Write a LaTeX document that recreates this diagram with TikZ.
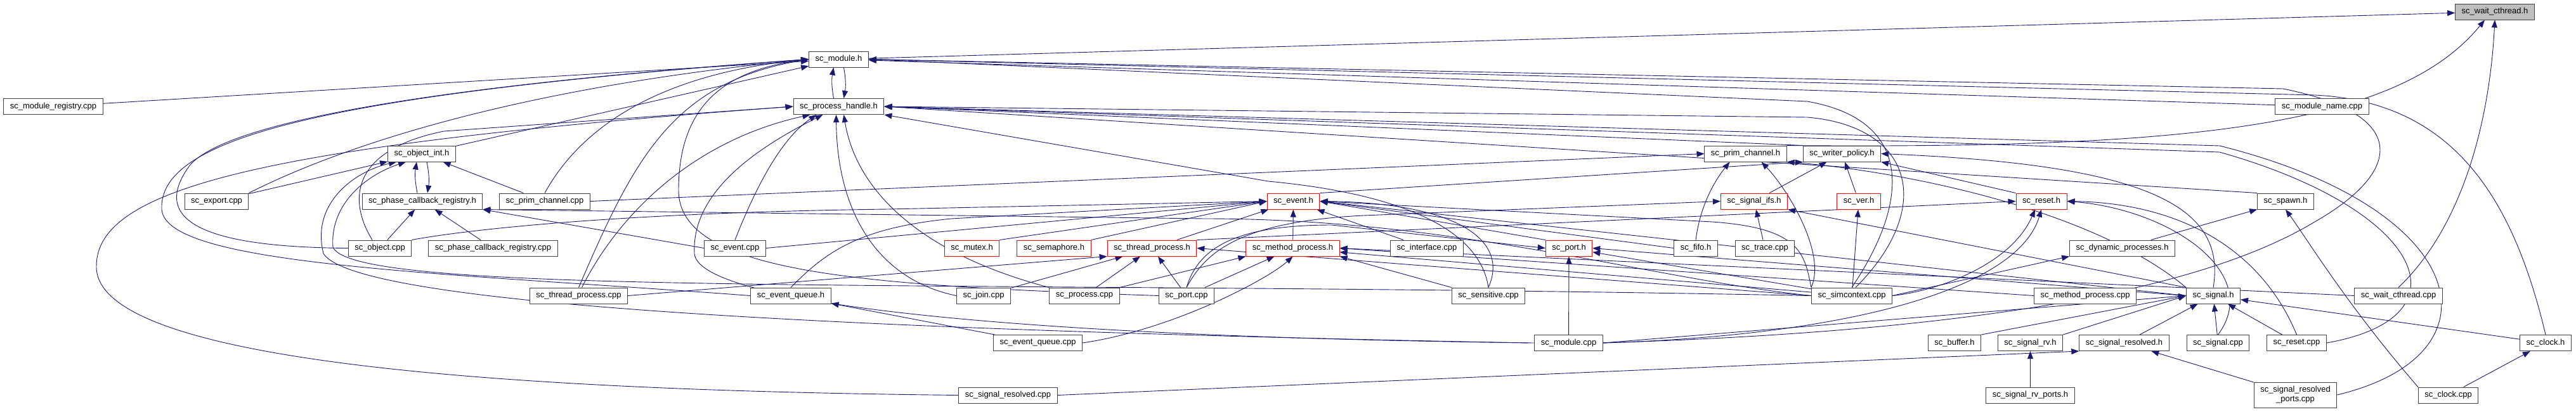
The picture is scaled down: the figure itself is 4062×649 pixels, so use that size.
\documentclass[tikz,border=0pt]{standalone}
\usepackage{fontspec}
\setmainfont{Liberation Sans}
\usetikzlibrary{arrows.meta,backgrounds}
\definecolor{edgeblue}{HTML}{191970}
\definecolor{rootfill}{HTML}{BFBFBF}

\begin{document}
\begin{tikzpicture}[x=1pt,y=-1pt,
    file/.style={draw=black!75, line width=1pt, fill=white, inner xsep=10pt,
                 minimum height=25pt, font=\fontsize{13}{15}\selectfont},
    trunc/.style={file, draw=red},
    root/.style={file, fill=rootfill},
    dep/.style={edgeblue, line width=0.9pt, -{Triangle[length=12pt,width=9pt]}}]
  \useasboundingbox (0,0) rectangle (4062,649);
  % Root
  \node[root] (wct) at (3934,18.5) {sc\_wait\_cthread.h};
  % Rank 1-3
  \node[file] (modh) at (1322.5,93.5) {sc\_module.h};
  \node[file] (regcpp) at (84,168) {sc\_module\_registry.cpp};
  \node[file] (phh) at (1322.5,168) {sc\_process\_handle.h};
  \node[file] (mnamecpp) at (3661.5,168) {sc\_module\_name.cpp};
  \node[file] (objint) at (665,242.5) {sc\_object\_int.h};
  \node[file] (primh) at (2752.5,242.5) {sc\_prim\_channel.h};
  \node[file] (wph) at (2904.5,242.5) {sc\_writer\_policy.h};
  % Rank 4
  \node[file] (expcpp) at (341.5,317.5) {sc\_export.cpp};
  \node[file] (pcbh) at (666,317.5) {sc\_phase\_callback\_registry.h};
  \node[file] (primcpp) at (859,317.5) {sc\_prim\_channel.cpp};
  \node[trunc] (evh) at (2039.5,317.5) {sc\_event.h};
  \node[trunc] (sifsh) at (2766,317.5) {sc\_signal\_ifs.h};
  \node[trunc] (verh) at (2931,317.5) {sc\_ver.h};
  \node[trunc] (rsth) at (3219,317.5) {sc\_reset.h};
  \node[file] (spawnh) at (3604,317.5) {sc\_spawn.h};
  % Rank 5
  \node[file] (objcpp) at (599,391.5) {sc\_object.cpp};
  \node[file] (pcbcpp) at (777.5,391.5) {sc\_phase\_callback\_registry.cpp};
  \node[file] (evcpp) at (1159,391.5) {sc\_event.cpp};
  \node[trunc] (mutexh) at (1532.5,391.5) {sc\_mutex.h};
  \node[trunc] (semh) at (1662,391.5) {sc\_semaphore.h};
  \node[trunc] (thph) at (1816.5,391.5) {sc\_thread\_process.h};
  \node[trunc] (mph) at (2038.5,391.5) {sc\_method\_process.h};
  \node[file] (ifcpp) at (2250,391.5) {sc\_interface.cpp};
  \node[trunc] (porth) at (2474,391.5) {sc\_port.h};
  \node[file] (fifoh) at (2674,391.5) {sc\_fifo.h};
  \node[file] (trcpp) at (2783,391.5) {sc\_trace.cpp};
  \node[file] (dynh) at (3346.5,391.5) {sc\_dynamic\_processes.h};
  % Rank 6
  \node[file] (thpcpp) at (912.5,466.5) {sc\_thread\_process.cpp};
  \node[file] (evqh) at (1247,466.5) {sc\_event\_queue.h};
  \node[file] (joincpp) at (1551,466.5) {sc\_join.cpp};
  \node[file] (proccpp) at (1710,466.5) {sc\_process.cpp};
  \node[file] (portcpp) at (1871,466.5) {sc\_port.cpp};
  \node[file] (senscpp) at (2347,466.5) {sc\_sensitive.cpp};
  \node[file] (simcpp) at (2920,466.5) {sc\_simcontext.cpp};
  \node[file] (mpcpp) at (3288,466.5) {sc\_method\_process.cpp};
  \node[file] (sigh) at (3490,466.5) {sc\_signal.h};
  \node[file] (wctcpp) at (3782,466.5) {sc\_wait\_cthread.cpp};
  % Rank 7
  \node[file] (evqcpp) at (1636.5,541) {sc\_event\_queue.cpp};
  \node[file] (modcpp) at (2473.5,541) {sc\_module.cpp};
  \node[file] (bufh) at (3082,541) {sc\_buffer.h};
  \node[file] (sigrvh) at (3201.5,541) {sc\_signal\_rv.h};
  \node[file] (sigresh) at (3349.5,541) {sc\_signal\_resolved.h};
  \node[file] (sigcpp) at (3497.5,541) {sc\_signal.cpp};
  \node[file] (rstcpp) at (3621.5,541) {sc\_reset.cpp};
  \node[file] (clkh) at (4014,541) {sc\_clock.h};
  % Rank 8
  \node[file] (sigrescpp) at (1589.5,623.5) {sc\_signal\_resolved.cpp};
  \node[file] (sigrvph) at (3201.5,623.5) {sc\_signal\_rv\_ports.h};
  \node[file, align=center, minimum height=40pt] (sigresportscpp) at (3619.5,623)
    {sc\_signal\_resolved\\\_ports.cpp};
  \node[file] (clkcpp) at (3860.5,623.5) {sc\_clock.cpp};

  \begin{pgfonlayer}{background}
  % into sc_wait_cthread.h
  \draw[dep] (modh) -- (wct);
  \draw[dep] (primh.north east) .. controls (3450,235) and (3780,200) .. ([xshift=-16pt]wct.south);
  \draw[dep] (wctcpp.north) .. controls (3880,360) and (3925,200) .. (wct.south);
  % sc_module.h and sc_process_handle.h
  \draw[dep] ([xshift=-8pt]phh.north) to[bend left=10] ([xshift=-8pt]modh.south);
  \draw[dep] ([xshift=8pt]modh.south) to[bend left=10] ([xshift=8pt]phh.north);
  % into sc_module.h
  \draw[dep] (regcpp) -- (modh);
  \draw[dep] (expcpp.north east) .. controls (530,235) and (800,140) .. (modh.west);
  \draw[dep] (objcpp.west) .. controls (300,390) and (240,340) .. (300,260)
    .. controls (380,170) and (900,120) .. (modh.west);
  \draw[dep] (evqh.west) .. controls (700,430) and (260,420) .. (255,330)
    .. controls (250,220) and (500,150) .. (modh.west);
  \draw[dep] (objint) -- (modh);
  \draw[dep] (primcpp.north) .. controls (900,230) and (1000,120) .. (modh.west);
  \draw[dep] (thpcpp.north) .. controls (1000,250) and (1060,130) .. (modh.west);
  \draw[dep] (portcpp.west) .. controls (1350,450) and (1070,430) .. (1070,300)
    .. controls (1070,160) and (1150,110) .. (modh.west);
  \draw[dep] (mnamecpp) -- (modh);
  \draw[dep] (clkh.north) .. controls (3960,300) and (3860,160) .. (3650,150) -- (modh.east);
  \draw[dep] (simcpp.north) .. controls (3010,320) and (3020,190) .. (2850,160) -- (modh.east);
  \draw[dep] (modcpp.east) .. controls (3200,520) and (3500,440) .. (3650,350)
    .. controls (3790,270) and (3800,180) .. (3600,140) -- (modh.east);
  % into sc_process_handle.h
  \draw[dep] ([xshift=-12pt]objcpp.north) .. controls (545,310) and (560,235) .. (700,207) -- (phh.west);
  \draw[dep] (sigrescpp.west) .. controls (700,615) and (150,560) .. (152,420)
    .. controls (152,300) and (400,230) .. (phh.west);
  \draw[dep] (evcpp.north) .. controls (1190,300) and (1230,220) .. ([xshift=-35pt]phh.south);
  \draw[dep] ([xshift=5pt]thpcpp.north) .. controls (980,330) and (1100,220) .. ([xshift=-45pt]phh.south);
  \draw[dep] (modcpp.west) .. controls (1500,530) and (1100,470) .. (1095,400)
    .. controls (1090,300) and (1200,230) .. ([xshift=-25pt]phh.south);
  \draw[dep] (joincpp.west) .. controls (1380,440) and (1320,330) .. ([xshift=-4pt]phh.south);
  \draw[dep] (proccpp.north west) .. controls (1450,400) and (1350,300) .. ([xshift=8pt]phh.south);
  \draw[dep] (wph.north west) -- (phh.east);
  \draw[dep] (senscpp.north) .. controls (2330,340) and (2150,300) .. (2000,286) -- (phh.south east);
  \draw[dep] ([xshift=6pt]simcpp.north) .. controls (3050,330) and (3020,200) .. (2850,185) -- (phh.east);
  \draw[dep] (spawnh.north west) -- (phh.east);
  \draw[dep] (rstcpp.east) .. controls (3900,500) and (3820,330) .. (3500,240) -- (phh.east);
  \draw[dep] (sigresportscpp.east) .. controls (3950,560) and (3900,330) .. (3500,230) -- (phh.east);
  % sc_object_int.h and sc_phase_callback_registry.h
  \draw[dep] (expcpp) -- (objint);
  \draw[dep] (primcpp) -- (objint);
  \draw[dep] ([xshift=-10pt]modcpp.west) .. controls (1300,520) and (560,480) .. (510,400)
    .. controls (490,320) and (560,270) .. ([xshift=-40pt]objint.south);
  \draw[dep] (simcpp.west) .. controls (1500,440) and (560,470) .. (525,390)
    .. controls (520,320) and (580,275) .. ([xshift=-25pt]objint.south);
  \draw[dep] ([xshift=-8pt]pcbh.north) to[bend left=10] ([xshift=-8pt]objint.south);
  \draw[dep] ([xshift=8pt]objint.south) to[bend left=10] ([xshift=8pt]pcbh.north);
  \draw[dep] (objcpp) -- (pcbh);
  \draw[dep] (pcbcpp) -- (pcbh);
  \draw[dep] (evcpp.west) -- (pcbh.south east);
  \draw[dep] (simcpp.west) .. controls (2600,440) and (2300,345) .. (1900,345) -- (pcbh.south east);
  % sc_prim_channel.h and sc_writer_policy.h
  \draw[dep] (primcpp.east) -- (primh.west);
  \draw[dep] (fifoh.north) .. controls (2680,330) and (2700,290) .. ([xshift=-25pt]primh.south);
  \draw[dep] (simcpp.north west) .. controls (2880,400) and (2820,300) .. ([xshift=25pt]primh.south);
  \draw[dep] (sigh.north west) .. controls (3300,330) and (3000,270) .. (primh.south east);
  \draw[dep] (evh.north east) -- (wph.south west);
  \draw[dep] (sifsh) -- (wph);
  \draw[dep] (verh) -- (wph);
  \draw[dep] (rsth.north west) -- (wph.south east);
  \draw[dep] (sigh.north) .. controls (3510,330) and (3400,260) .. (wph.east);
  % sc_signal_ifs.h, sc_ver.h, sc_reset.h, sc_spawn.h
  \draw[dep] (portcpp.north) .. controls (1900,400) and (1950,350) .. (2150,340) -- (sifsh.west);
  \draw[dep] (trcpp) -- (sifsh);
  \draw[dep] (sigh.north west) -- (sifsh.south east);
  \draw[dep] (simcpp) -- (verh);
  \draw[dep] (thph.north east) -- (rsth.west);
  \draw[dep] (simcpp.east) .. controls (3050,460) and (3170,420) .. ([xshift=-10pt]rsth.south);
  \draw[dep] (modcpp.east) .. controls (2900,530) and (3180,460) .. (rsth.south);
  \draw[dep] (sigcpp.north) .. controls (3570,430) and (3420,330) .. (rsth.east);
  \draw[dep] (rstcpp.north) .. controls (3560,380) and (3420,320) .. (rsth.east);
  \draw[dep] (dynh) -- (spawnh);
  \draw[dep] (clkcpp.north west) .. controls (3700,480) and (3640,380) .. (spawnh.south);
  \draw[dep] (simcpp.east) -- (dynh.south west);
  % into sc_event.h
  \draw[dep] (mutexh.north east) -- (evh.west);
  \draw[dep] (semh.north east) -- (evh.west);
  \draw[dep] (thph) -- (evh);
  \draw[dep] (mph) -- (evh);
  \draw[dep] (evcpp.east) -- (evh.west);
  \draw[dep] (evqh.north) .. controls (1300,400) and (1350,360) .. (1500,345) -- (evh.west);
  \draw[dep] (objcpp.north east) .. controls (750,360) and (1000,335) .. (1400,330) -- (evh.west);
  \draw[dep] (ifcpp) -- (evh);
  \draw[dep] (senscpp.north) .. controls (2380,380) and (2300,320) .. (evh.east);
  \draw[dep] (porth.north west) -- (evh.east);
  \draw[dep] (simcpp.north west) .. controls (2845,400) and (2840,360) .. (2700,350) -- (evh.east);
  \draw[dep] (sigh.west) -- (evh.east);
  \draw[dep] (fifoh.west) -- (evh.east);
  % sc_thread_process.h, sc_method_process.h, sc_port.h
  \draw[dep] (thpcpp.east) -- (thph.south west);
  \draw[dep] (proccpp) -- (thph);
  \draw[dep] (portcpp) -- (thph);
  \draw[dep] (joincpp) -- (thph);
  \draw[dep] (simcpp.west) -- (thph.east);
  \draw[dep] (proccpp.north east) -- (mph.south west);
  \draw[dep] (portcpp) -- (mph);
  \draw[dep] (evqcpp.east) .. controls (1850,520) and (2000,440) .. (mph.south);
  \draw[dep] (mpcpp.west) -- (mph.east);
  \draw[dep] (senscpp.north west) -- (mph.south east);
  \draw[dep] (simcpp) -- (mph);
  \draw[dep] (wctcpp.west) -- (mph.east);
  \draw[dep] (portcpp.north) .. controls (1890,390) and (1950,355) .. (2100,355) -- (porth.west);
  \draw[dep] (modcpp) -- (porth);
  \draw[dep] (sigh.west) -- (porth.east);
  \draw[dep] (simcpp) -- (porth);
  % lower files
  \draw[dep] (evqcpp) -- (evqh);
  \draw[dep] (sigresh) -- (sigh);
  \draw[dep] (sigcpp) -- (sigh);
  \draw[dep] (rstcpp) -- (sigh);
  \draw[dep] (clkh) -- (sigh);
  \draw[dep] (bufh.north east) -- (sigh.west);
  \draw[dep] (sigrvh.north east) -- (sigh.west);
  \draw[dep] (modcpp.east) -- (sigh.west);
  \draw[dep] (sigrescpp.east) -- (sigresh.south west);
  \draw[dep] (sigrvph) -- (sigrvh);
  \draw[dep] (sigresportscpp) -- (sigresh);
  \draw[dep] (clkcpp) -- (clkh);
  \end{pgfonlayer}
\end{tikzpicture}
\end{document}
